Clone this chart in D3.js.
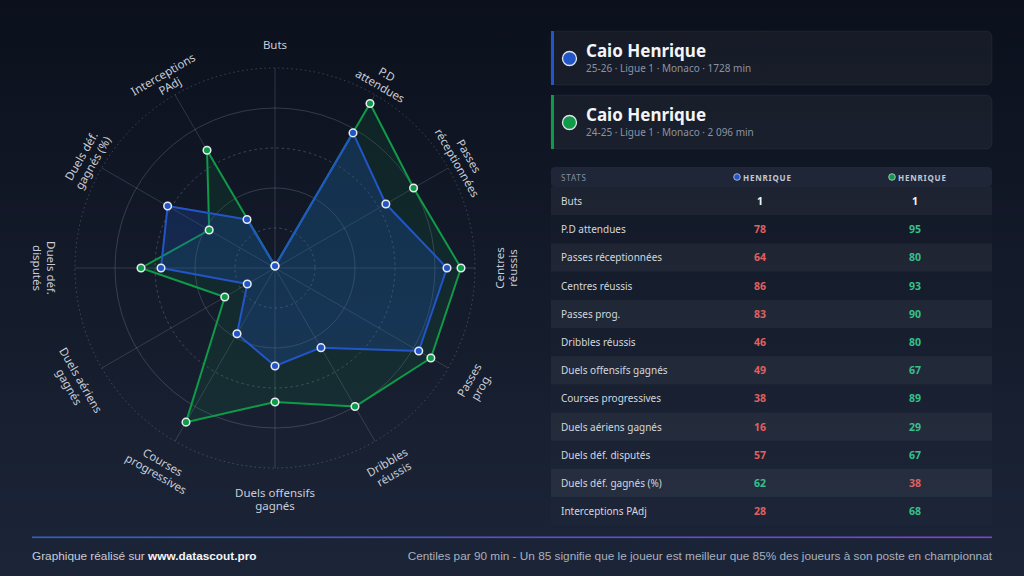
<!DOCTYPE html>
<html>
<head>
<meta charset="utf-8">
<script src="https://cdn.jsdelivr.net/npm/d3@7"></script>
<style>
  html, body { margin: 0; padding: 0; background: #0b101c; }
  svg { display: block; font-family: "Noto Sans", "DejaVu Sans", sans-serif; }
</style>
</head>
<body>
<svg id="chart" width="1024" height="576"></svg>
<script>
// --- data ---
const axes = [
  "Buts", "P.D attendues", "Passes réceptionnées", "Centres réussis",
  "Passes prog.", "Dribbles réussis", "Duels offensifs gagnés",
  "Courses progressives", "Duels aériens gagnés", "Duels déf. disputés",
  "Duels déf. gagnés (%)", "Interceptions PAdj"
];
// radar labels, same order, "|" = line break
const axisLabels = [
  "Buts", "P.D|attendues", "Passes|réceptionnées", "Centres|réussis",
  "Passes|prog.", "Dribbles|réussis", "Duels offensifs|gagnés",
  "Courses|progressives", "Duels aériens|gagnés", "Duels déf.|disputés",
  "Duels déf.|gagnés (%)", "Interceptions|PAdj"
];
const season2526 = [1, 78, 64, 86, 83, 46, 49, 38, 16, 57, 62, 28];
const season2425 = [1, 95, 80, 93, 90, 80, 67, 89, 29, 67, 38, 68];
const ringTicks = [20, 40, 60, 80, 100];

const players = [
  { name: "Caio Henrique", info: "25-26 · Ligue 1 · Monaco · 1728 min", color: "#2256c8", values: season2526 },
  { name: "Caio Henrique", info: "24-25 · Ligue 1 · Monaco · 2 096 min", color: "#0f9a48", values: season2425 }
];

const svg = d3.select("#chart");
const W = 1024, H = 576;

// background
const defs = svg.append("defs");
const bg = defs.append("linearGradient").attr("id", "bg")
  .attr("x1", 0).attr("y1", 0).attr("x2", 0).attr("y2", 1);
bg.append("stop").attr("offset", "0%").attr("stop-color", "#0b101c");
bg.append("stop").attr("offset", "100%").attr("stop-color", "#1c2538");
const foot = defs.append("linearGradient").attr("id", "footline")
  .attr("x1", 0).attr("y1", 0).attr("x2", 1).attr("y2", 0);
foot.append("stop").attr("offset", "0%").attr("stop-color", "#2f62c8");
foot.append("stop").attr("offset", "100%").attr("stop-color", "#7a46c8");

svg.append("rect").attr("width", W).attr("height", H).attr("fill", "url(#bg)");

// --- radar ---
const cx = 275, cy = 268, R = 200;
const r = d3.scaleLinear().domain([0, 100]).range([0, R]);
const angle = d3.scaleLinear().domain([0, axes.length]).range([0, 2 * Math.PI]);
const px = (i, v) => cx + r(v) * Math.sin(angle(i));
const py = (i, v) => cy - r(v) * Math.cos(angle(i));

const radar = svg.append("g");

radar.selectAll("circle.ring")
  .data(ringTicks)
  .join("circle")
  .attr("class", "ring")
  .attr("cx", cx).attr("cy", cy)
  .attr("r", d => r(d))
  .attr("fill", "none")
  .attr("stroke", d => d % 40 === 0 ? "rgba(180,190,210,0.22)" : "rgba(180,190,210,0.28)")
  .attr("stroke-width", 1)
  .attr("stroke-dasharray", d => d % 40 === 0 ? null : (d === 100 ? "1.5,3" : "2.5,3"));

radar.selectAll("line.axis")
  .data(axes)
  .join("line")
  .attr("class", "axis")
  .attr("x1", cx).attr("y1", cy)
  .attr("x2", (d, i) => px(i, 100))
  .attr("y2", (d, i) => py(i, 100))
  .attr("stroke", "rgba(180,190,210,0.2)")
  .attr("stroke-width", 1);

const line = d3.lineRadial()
  .angle((d, i) => angle(i))
  .radius(d => r(d))
  .curve(d3.curveLinearClosed);

const fills = ["rgba(34,86,200,0.24)", "rgba(15,154,72,0.12)"];
[1, 0].forEach(k => {
  const p = players[k];
  radar.append("path")
    .attr("transform", `translate(${cx},${cy})`)
    .attr("d", line(p.values))
    .attr("fill", fills[k])
    .attr("stroke", p.color)
    .attr("stroke-width", 2)
    .attr("stroke-linejoin", "round");
});
[1, 0].forEach(k => {
  const p = players[k];
  radar.append("g").selectAll("circle")
    .data(p.values)
    .join("circle")
    .attr("cx", (d, i) => px(i, d))
    .attr("cy", (d, i) => py(i, d))
    .attr("r", 3.8)
    .attr("fill", p.color)
    .attr("stroke", "#e8ecf2")
    .attr("stroke-width", 1.5);
});

// axis labels, rotated along the circle
const labelR = 224;
const lab = radar.selectAll("g.lab")
  .data(axisLabels)
  .join("g")
  .attr("class", "lab")
  .attr("transform", (d, i) => {
    const deg = 360 * i / axes.length;
    const rot = deg < 90 ? deg : (deg <= 270 ? deg - 180 : deg - 360);
    const x = cx + labelR * Math.sin(angle(i));
    const y = cy - labelR * Math.cos(angle(i));
    return `translate(${x},${y}) rotate(${rot})`;
  });
lab.append("text")
  .attr("text-anchor", "middle")
  .attr("fill", "#c8cdd7")
  .attr("font-size", 11.5)
  .selectAll("tspan")
  .data(d => d.split("|"))
  .join("tspan")
  .attr("x", 0)
  .attr("y", (d, i) => i * 13.5)
  .attr("dominant-baseline", "central")
  .text(d => d);

// --- player cards ---
const cardX = 551, cardW = 441;
const cards = svg.selectAll("g.card")
  .data(players)
  .join("g")
  .attr("class", "card")
  .attr("transform", (d, i) => `translate(${cardX},${31 + i * 64})`);
cards.append("rect")
  .attr("width", cardW).attr("height", 54).attr("rx", 6)
  .attr("fill", "rgba(255,255,255,0.045)")
  .attr("stroke", "rgba(255,255,255,0.05)");
cards.append("rect")
  .attr("width", 3).attr("height", 54)
  .attr("fill", d => d.color);
cards.append("circle")
  .attr("cx", 18.5).attr("cy", 27.5).attr("r", 7)
  .attr("fill", d => d.color)
  .attr("stroke", "#dfe4ec").attr("stroke-width", 1.3);
cards.append("text")
  .attr("x", 35).attr("y", 26)
  .attr("fill", "#f3f5f8")
  .attr("font-size", 17).attr("font-weight", 700)
  .text(d => d.name);
cards.append("text")
  .attr("x", 35).attr("y", 41)
  .attr("fill", "#8a93a4")
  .attr("font-size", 10)
  .text(d => d.info);

// --- table ---
const tx = 551, tw = 441, headY = 167, headH = 20, rowH = 28.2;
const col1 = 760, col2 = 915;
const table = svg.append("g");
table.append("rect")
  .attr("x", tx).attr("y", headY).attr("width", tw).attr("height", headH).attr("rx", 4)
  .attr("fill", "#1e2637");
table.append("text")
  .attr("x", 561).attr("y", headY + headH / 2)
  .attr("dominant-baseline", "central")
  .attr("fill", "#8690a2").attr("font-size", 8).attr("letter-spacing", 0.8)
  .text("STATS");
[col1, col2].forEach((c, k) => {
  const g = table.append("g").attr("transform", `translate(${c + 4},${headY + headH / 2})`);
  g.append("circle").attr("cx", -27).attr("cy", 0).attr("r", 3.3)
    .attr("fill", players[k].color).attr("stroke", "#c9d0dc").attr("stroke-width", 0.8);
  g.append("text")
    .attr("x", -21).attr("dominant-baseline", "central")
    .attr("fill", "#c3c9d4").attr("font-size", 8).attr("font-weight", 700)
    .attr("letter-spacing", 0.8)
    .text(players[k].name.split(" ").pop().toUpperCase());
});

const rows = table.selectAll("g.row")
  .data(axes)
  .join("g")
  .attr("class", "row")
  .attr("transform", (d, i) => `translate(0,${headY + headH + i * rowH})`);
rows.append("rect")
  .attr("x", tx).attr("width", tw).attr("height", rowH)
  .attr("fill", (d, i) => i % 2 === 0 ? "rgba(255,255,255,0.055)" : "rgba(255,255,255,0.012)");
rows.append("text")
  .attr("x", 561).attr("y", rowH / 2)
  .attr("dominant-baseline", "central")
  .attr("fill", "#d2d7df").attr("font-size", 10)
  .text(d => d);

const valColor = (a, b) => a === b ? "#f2f4f7" : (a > b ? "#35c08c" : "#e0605f");
[col1, col2].forEach((c, k) => {
  const mine = players[k].values, other = players[1 - k].values;
  rows.append("text")
    .attr("x", c).attr("y", rowH / 2)
    .attr("text-anchor", "middle").attr("dominant-baseline", "central")
    .attr("font-size", 10.5).attr("font-weight", 700)
    .attr("fill", (d, i) => valColor(mine[i], other[i]))
    .text((d, i) => mine[i]);
});

// --- footer ---
svg.append("rect")
  .attr("x", 32).attr("y", 536.5).attr("width", 960).attr("height", 1.6)
  .attr("fill", "url(#footline)");
const ft = svg.append("text")
  .attr("x", 32).attr("y", 560)
  .attr("font-family", "'Liberation Sans', sans-serif")
  .attr("font-size", 11.8).attr("fill", "#c7ccd5");
ft.append("tspan").text("Graphique réalisé sur ");
ft.append("tspan").attr("font-weight", 700).attr("fill", "#f3f5f8").text("www.datascout.pro");
svg.append("text")
  .attr("x", 992).attr("y", 560).attr("text-anchor", "end")
  .attr("font-family", "'Liberation Sans', sans-serif")
  .attr("font-size", 11.8).attr("fill", "#a9b0bd")
  .text("Centiles par 90 min - Un 85 signifie que le joueur est meilleur que 85% des joueurs à son poste en championnat");
</script>
</body>
</html>
